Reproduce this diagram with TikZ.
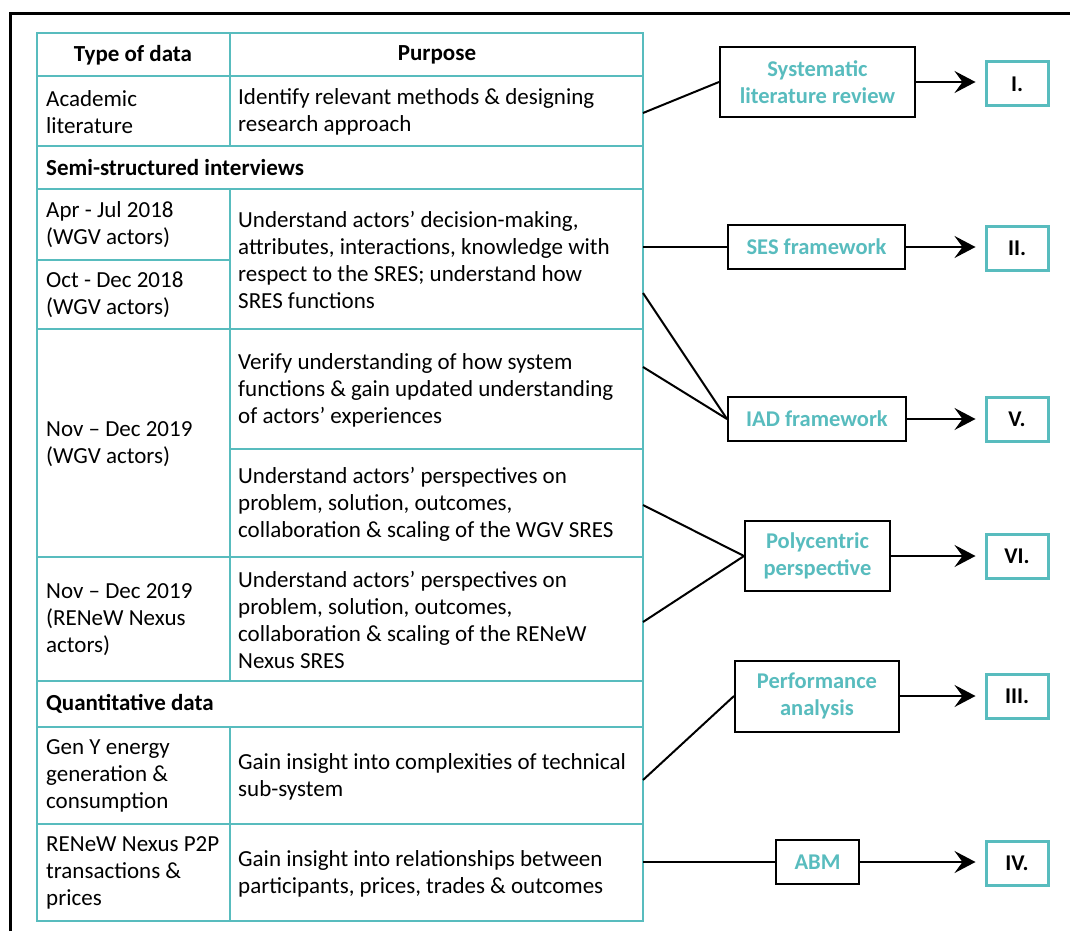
\documentclass[tikz,border=0pt]{standalone}
\usepackage{fontspec}
\setmainfont{Carlito}
\usetikzlibrary{arrows.meta}
\definecolor{tealline}{RGB}{88,188,190}

\tikzset{
  txt/.style={anchor=west, align=left, inner sep=0pt, font=\fontsize{23}{27}\selectfont},
  headtxt/.style={inner sep=0pt, font=\fontsize{23}{27}\selectfont\bfseries},
  gridline/.style={draw=tealline, line width=2.5pt},
  method/.style={draw=black, line width=2pt, fill=white, text=tealline,
    font=\fontsize{22.5}{27}\selectfont\bfseries, align=center, inner sep=0pt},
  result/.style={draw=tealline, line width=3pt, fill=white,
    font=\fontsize{22.5}{27}\selectfont\bfseries, inner sep=0pt,
    minimum width=62pt, minimum height=44pt},
  link/.style={draw=black, line width=2pt},
  flow/.style={link, shorten >=9pt, -{Stealth[length=21pt,width=22pt,inset=8pt]}}
}

\begin{document}
\begin{tikzpicture}[x=1pt,y=-1pt]
\useasboundingbox (0,0) rectangle (1070,931);

% outer frame (left and top edges)
\draw[line width=3pt] (10,931) -- (10,14) -- (1070,14);

% table grid
\draw[gridline] (37,33) rectangle (643,921);
\draw[gridline] (37,76) -- (643,76);
\draw[gridline] (37,146) -- (643,146);
\draw[gridline] (37,189) -- (643,189);
\draw[gridline] (37,260) -- (230,260);
\draw[gridline] (37,329) -- (643,329);
\draw[gridline] (230,449) -- (643,449);
\draw[gridline] (37,557) -- (643,557);
\draw[gridline] (37,681) -- (643,681);
\draw[gridline] (37,727) -- (643,727);
\draw[gridline] (37,824) -- (643,824);
\draw[gridline] (230,33) -- (230,146);
\draw[gridline] (230,189) -- (230,681);
\draw[gridline] (230,727) -- (230,921);

% header
\node[headtxt] (hType) at (133,55) {Type of data};
\node[headtxt] (hPurpose) at (437,55) {Purpose};

% academic literature
\node[txt] (dAcad) at (46,112) {Academic\\literature};
\node[txt] (pAcad) at (238,112) {Identify relevant methods \& designing\\research approach};

% semi-structured interviews
\node[headtxt, anchor=west] (sSemi) at (46,168) {Semi-structured interviews};
\node[txt] (dApr) at (46,225) {Apr - Jul 2018\\(WGV actors)};
\node[txt] (dOct) at (46,295) {Oct - Dec 2018\\(WGV actors)};
\node[txt] (pDec) at (238,260) {Understand actors’ decision-making,\\attributes, interactions, knowledge with\\respect to the SRES; understand how\\SRES functions};
\node[txt] (dNovA) at (46,444) {Nov – Dec 2019\\(WGV actors)};
\node[txt] (pVerify) at (238,390) {Verify understanding of how system\\functions \& gain updated understanding\\of actors’ experiences};
\node[txt] (pWGV) at (238,504) {Understand actors’ perspectives on\\problem, solution, outcomes,\\collaboration \& scaling of the WGV SRES};
\node[txt] (dNovB) at (46,620) {Nov – Dec 2019\\(RENeW Nexus\\actors)};
\node[txt] (pRenew) at (238,620) {Understand actors’ perspectives on\\problem, solution, outcomes,\\collaboration \& scaling of the RENeW\\Nexus SRES};

% quantitative data
\node[headtxt, anchor=west] (sQuant) at (46,704) {Quantitative data};
\node[txt] (dGen) at (46,776) {Gen Y energy\\generation \&\\consumption};
\node[txt] (pGen) at (238,777) {Gain insight into complexities of technical\\sub-system};
\node[txt] (dP2P) at (46,873) {RENeW Nexus P2P\\transactions \&\\prices};
\node[txt] (pP2P) at (238,874) {Gain insight into relationships between\\participants, prices, trades \& outcomes};

% connector origins on the table edge
\coordinate (tA) at (643,113);
\coordinate (tB) at (643,247);
\coordinate (tC1) at (643,293);
\coordinate (tC2) at (643,367);
\coordinate (tD1) at (643,505);
\coordinate (tD2) at (643,622);
\coordinate (tE) at (643,780);
\coordinate (tF) at (643,862);

% methods
\node[method, minimum width=195pt, minimum height=70pt] (slr) at (817.5,82) {Systematic\\literature review};
\node[method, minimum width=177pt, minimum height=44pt] (ses) at (816.5,247) {SES framework};
\node[method, minimum width=178pt, minimum height=44pt] (iad) at (817,419) {IAD framework};
\node[method, minimum width=145pt, minimum height=70pt] (poly) at (817.5,556) {Polycentric\\perspective};
\node[method, minimum width=164pt, minimum height=71pt] (perf) at (817,696) {Performance\\analysis};
\node[method, minimum width=83pt, minimum height=44pt] (abm) at (817.5,862) {ABM};

% results
\node[result] (rI) at (1017,84) {I.};
\node[result] (rII) at (1017,248) {II.};
\node[result] (rV) at (1017,419) {V.};
\node[result] (rVI) at (1017,556) {VI.};
\node[result] (rIII) at (1017,696) {III.};
\node[result] (rIV) at (1017,863) {IV.};

% table to methods
\draw[link] (tA) -- (slr.west);
\draw[link] (tB) -- (ses.west);
\draw[link] (tC1) -- (iad.west);
\draw[link] (tC2) -- (iad.west);
\draw[link] (tD1) -- (poly.west);
\draw[link] (tD2) -- (poly.west);
\draw[link] (tE) -- (perf.west);
\draw[link] (tF) -- (abm.west);

% methods to results
\draw[flow] (slr.east) -- (slr.east -| rI.west);
\draw[flow] (ses.east) -- (ses.east -| rII.west);
\draw[flow] (iad.east) -- (iad.east -| rV.west);
\draw[flow] (poly.east) -- (poly.east -| rVI.west);
\draw[flow] (perf.east) -- (perf.east -| rIII.west);
\draw[flow] (abm.east) -- (abm.east -| rIV.west);
\end{tikzpicture}
\end{document}
